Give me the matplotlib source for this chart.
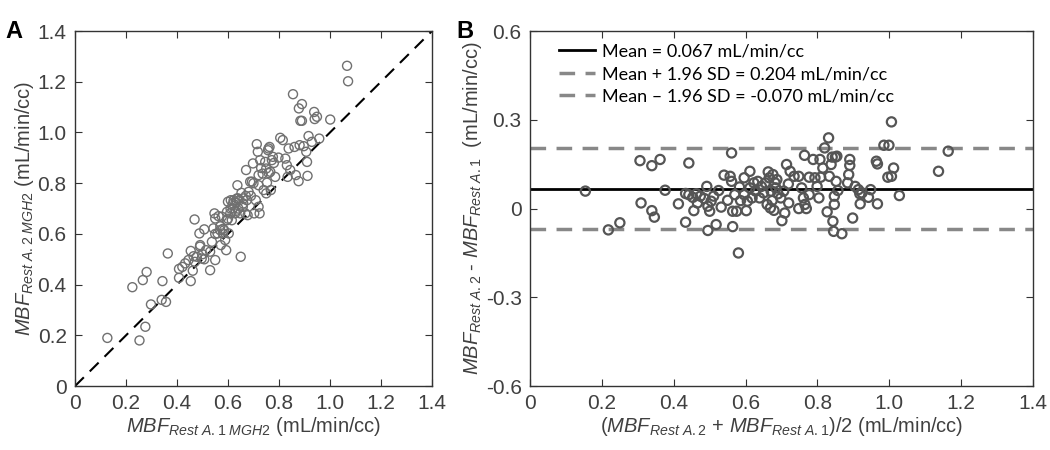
import matplotlib.pyplot as plt
import numpy as np

plt.rcParams.update({'font.family': 'Liberation Sans', 'font.size': 13,
                     'mathtext.fontset': 'custom',
                     'mathtext.it': 'Liberation Sans:italic',
                     'mathtext.rm': 'Liberation Sans'})

# Panel A: repeat measurement vs first measurement
mbf_a1 = [0.127, 0.225, 0.253, 0.266, 0.276, 0.281, 0.298, 0.34, 0.343, 0.357,
          0.364, 0.408, 0.408, 0.421, 0.432, 0.445, 0.454, 0.454, 0.462, 0.465,
          0.469, 0.478, 0.491, 0.488, 0.497, 0.507, 0.507, 0.514, 0.53, 0.537,
          0.543, 0.547, 0.55, 0.55, 0.559, 0.563, 0.569, 0.572, 0.576, 0.58,
          0.585, 0.589, 0.593, 0.596, 0.596, 0.6, 0.603, 0.609, 0.611, 0.615,
          0.619, 0.622, 0.628, 0.63, 0.635, 0.637, 0.641, 0.645, 0.648, 0.65,
          0.653, 0.658, 0.661, 0.668, 0.671, 0.674, 0.677, 0.681, 0.687, 0.694,
          0.698, 0.703, 0.709, 0.713, 0.717, 0.72, 0.72, 0.72, 0.724, 0.726,
          0.736, 0.74, 0.746, 0.75, 0.753, 0.757, 0.759, 0.763, 0.766, 0.768,
          0.772, 0.776, 0.785, 0.798, 0.805, 0.815, 0.825, 0.831, 0.834, 0.838,
          0.844, 0.855, 0.861, 0.866, 0.877, 0.878, 0.881, 0.884, 0.89, 0.89,
          0.897, 0.907, 0.91, 0.912, 0.916, 0.929, 0.938, 0.94, 0.949, 0.958,
          1.001, 1.067, 1.071,
          0.62, 0.64, 0.66, 0.63, 0.67, 0.61, 0.60, 0.57, 0.58, 0.55,
          0.53, 0.50, 0.47, 0.49, 0.70, 0.73, 0.76, 0.69, 0.75, 0.78]
mbf_a2 = [0.19, 0.39, 0.18, 0.418, 0.234, 0.45, 0.322, 0.34, 0.414, 0.332,
          0.523, 0.427, 0.462, 0.47, 0.484, 0.497, 0.533, 0.414, 0.455, 0.512,
          0.657, 0.51, 0.556, 0.602, 0.503, 0.618, 0.5, 0.536, 0.457, 0.569,
          0.622, 0.681, 0.497, 0.661, 0.602, 0.67, 0.615, 0.556, 0.668, 0.602,
          0.615, 0.576, 0.536, 0.654, 0.687, 0.727, 0.602, 0.681, 0.733, 0.654,
          0.7, 0.733, 0.681, 0.723, 0.74, 0.792, 0.7, 0.733, 0.681, 0.51,
          0.762, 0.707, 0.74, 0.681, 0.852, 0.733, 0.674, 0.766, 0.806, 0.806,
          0.878, 0.681, 0.733, 0.954, 0.924, 0.832, 0.792, 0.707, 0.681, 0.891,
          0.838, 0.773, 0.884, 0.858, 0.802, 0.93, 0.937, 0.943, 0.845, 0.773,
          0.891, 0.904, 0.825, 0.901, 0.979, 0.97, 0.897, 0.871, 0.825, 0.937,
          0.852, 1.151, 0.943, 0.832, 0.808, 1.095, 0.95, 1.046, 1.112, 1.046,
          0.946, 0.924, 0.884, 0.829, 0.986, 0.963, 1.081, 1.053, 1.062, 0.976,
          1.051, 1.263, 1.202,
          0.72, 0.74, 0.72, 0.69, 0.75, 0.70, 0.66, 0.63, 0.62, 0.60,
          0.53, 0.52, 0.49, 0.55, 0.80, 0.86, 0.84, 0.75, 0.76, 0.88]

# Panel B: Bland-Altman (mean of the two vs difference)
ba_mean = [0.154, 0.218, 0.25, 0.306, 0.309, 0.339, 0.339, 0.346, 0.362, 0.376,
           0.413, 0.433, 0.433, 0.442, 0.442, 0.453, 0.456, 0.463, 0.466, 0.474,
           0.485, 0.492, 0.495, 0.495, 0.5, 0.504, 0.511, 0.518, 0.525, 0.532,
           0.54, 0.55, 0.557, 0.561, 0.561, 0.564, 0.564, 0.57, 0.575, 0.58,
           0.583, 0.586, 0.596, 0.596, 0.602, 0.605, 0.612, 0.612, 0.618, 0.623,
           0.628, 0.634, 0.639, 0.644, 0.65, 0.655, 0.66, 0.663, 0.666, 0.669,
           0.671, 0.674, 0.676, 0.679, 0.682, 0.684, 0.687, 0.69, 0.698, 0.701,
           0.706, 0.709, 0.714, 0.719, 0.72, 0.724, 0.735, 0.748, 0.748, 0.756,
           0.761, 0.764, 0.765, 0.769, 0.777, 0.777, 0.788, 0.793, 0.799, 0.804,
           0.807, 0.809, 0.815, 0.82, 0.827, 0.831, 0.833, 0.838, 0.841, 0.843,
           0.845, 0.847, 0.847, 0.85, 0.854, 0.852, 0.857, 0.868, 0.884, 0.887,
           0.89, 0.89, 0.898, 0.905, 0.914, 0.918, 0.919, 0.924, 0.942, 0.948,
           0.964, 0.967, 0.967, 0.985, 0.999, 0.996, 1.006, 1.006, 1.012, 1.028,
           1.137, 1.164]
ba_diff = [0.059, -0.072, -0.048, 0.162, 0.019, 0.145, -0.007, -0.029, 0.166, 0.062,
           0.016, 0.051, -0.046, 0.154, 0.047, 0.038, -0.007, 0.05, 0.019, 0.042,
           0.034, 0.075, -0.074, 0.008, -0.009, 0.025, 0.042, -0.054, 0.061, 0.005,
           0.113, 0.028, 0.109, 0.092, 0.188, -0.009, -0.061, 0.047, -0.009, -0.15,
           0.073, 0.027, 0.047, 0.104, -0.007, 0.025, 0.126, 0.07, 0.036, 0.087,
           0.059, 0.092, 0.036, 0.075, 0.053, 0.087, 0.014, 0.124, 0.104, 0.002,
           0.059, 0.027, 0.115, -0.006, 0.087, 0.07, 0.098, 0.05, 0.036, -0.041,
           0.059, -0.015, 0.149, 0.083, 0.019, 0.126, 0.109, 0.109, 0.0, 0.07,
           0.036, 0.18, 0.014, 0.0, 0.047, 0.106, 0.166, 0.104, 0.075, 0.036,
           0.166, 0.106, 0.137, 0.205, -0.011, 0.239, 0.109, 0.149, 0.174, -0.043,
           -0.077, 0.042, 0.014, 0.174, 0.177, 0.092, 0.061, -0.085, 0.087, 0.115,
           0.166, 0.146, -0.032, 0.075, 0.064, 0.05, 0.016, 0.053, 0.038, 0.064,
           0.16, 0.151, 0.016, 0.214, 0.214, 0.106, 0.293, 0.109, 0.137, 0.044,
           0.126, 0.194]

mean_diff = 0.067
upper_loa = 0.204
lower_loa = -0.070

fig = plt.figure(figsize=(10.5, 4.5), dpi=100)
axA = fig.add_axes([0.0714, 0.142, 0.34, 0.789])
axB = fig.add_axes([0.5048, 0.142, 0.479, 0.789])

for ax in (axA, axB):
    ax.tick_params(direction='in', top=True, right=True, length=5,
                   colors='#333333', labelcolor='#404040', labelsize=15, pad=6)
    for s in ax.spines.values():
        s.set_color('#333333')
        s.set_linewidth(1.0)

# ---- Panel A
axA.plot([0, 1.4], [0, 1.4], color='black', ls=(0, (6, 4)), lw=1.5)
axA.scatter(mbf_a1, mbf_a2, s=42, facecolors='none', edgecolors='#707070',
            linewidths=1.0, zorder=3)
axA.set_xlim(0, 1.4)
axA.set_ylim(0, 1.4)
ticksA = np.arange(0, 1.41, 0.2)
axA.set_xticks(ticksA)
axA.set_yticks(ticksA)
labsA = ['0'] + ['%.1f' % t for t in ticksA[1:]]
axA.set_xticklabels(labsA)
axA.set_yticklabels(labsA)
axA.set_xlabel(r'$\mathit{MBF}_{\mathit{Rest\ A.1\ MGH2}}$ (mL/min/cc)',
               color='#404040', fontsize=14.5, labelpad=1)
axA.set_ylabel(r'$\mathit{MBF}_{\mathit{Rest\ A.2\ MGH2}}$ (mL/min/cc)',
               color='#404040', fontsize=14.5, labelpad=1)

# ---- Panel B
axB.axhline(mean_diff, color='black', lw=2, label='Mean = 0.067 mL/min/cc')
axB.axhline(upper_loa, color='#888888', lw=2.5, ls=(0, (4.5, 3)),
            label='Mean + 1.96 SD = 0.204 mL/min/cc')
axB.axhline(lower_loa, color='#888888', lw=2.5, ls=(0, (4.5, 3)),
            label='Mean \u2013 1.96 SD = -0.070 mL/min/cc')
axB.scatter(ba_mean, ba_diff, s=44, facecolors='none', edgecolors='#555555',
            linewidths=1.6, zorder=3)
axB.set_xlim(0, 1.4)
axB.set_ylim(-0.6, 0.6)
axB.set_xticks(ticksA)
axB.set_xticklabels(labsA)
axB.set_yticks([-0.6, -0.3, 0, 0.3, 0.6])
axB.set_yticklabels(['-0.6', '-0.3', '0', '0.3', '0.6'])
axB.set_xlabel(r'($\mathit{MBF}_{\mathit{Rest\ A.2}}$ + $\mathit{MBF}_{\mathit{Rest\ A.1}}$)/2 (mL/min/cc)',
               color='#404040', fontsize=14.5, labelpad=1)
axB.set_ylabel(r'$\mathit{MBF}_{\mathit{Rest\ A.2}}$ - $\mathit{MBF}_{\mathit{Rest\ A.1}}$  (mL/min/cc)',
               color='#404040', fontsize=14.5, labelpad=1)
axB.legend(loc='upper left', frameon=False, prop={'family': 'Lato', 'size': 13},
           handlelength=2.0, handletextpad=0.4, labelspacing=0.35,
           bbox_to_anchor=(0.025, 1.01))

fig.text(0.005, 0.93, 'A', fontsize=17, fontweight='bold', va='center')
fig.text(0.435, 0.93, 'B', fontsize=17, fontweight='bold', va='center')

fig.savefig('out.png', dpi=100)
